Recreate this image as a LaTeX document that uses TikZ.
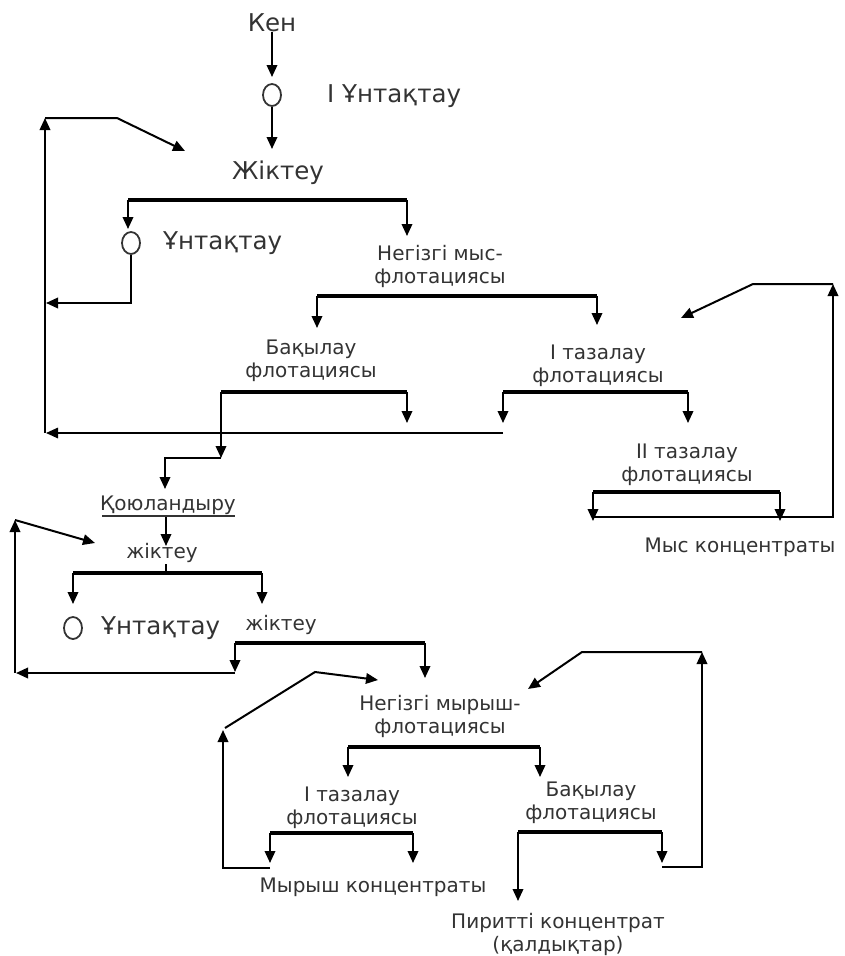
\documentclass[tikz,border=0pt]{standalone}
\usepackage{fontspec}
\setmainfont{DejaVu Sans}
\usetikzlibrary{arrows.meta,shapes.geometric}
\definecolor{txt}{HTML}{333333}
\begin{document}
\begin{tikzpicture}[x=1pt,y=-1pt,
  lbl/.style={font=\fontsize{20}{23}\selectfont, text=txt, align=center, inner sep=0pt},
  big/.style={lbl, font=\fontsize{24.5}{28}\selectfont},
  bar/.style={line width=3.4pt},
  ln/.style={line width=2pt},
  arr/.style={ln, -{Triangle[width=10.5pt,length=12pt]}},
  mill/.style={draw=txt, line width=1.8pt, ellipse, minimum width=18pt, minimum height=22pt, inner sep=0pt}]
\useasboundingbox[fill=white] (0,0) rectangle (844,956);

% ---------- top: ore, grinding, classification ----------
\node[big] (ken) at (272,23) {Кен};
\node[mill] (m1) at (272,95) {};
\node[big, anchor=west] (m1t) at (327,96) {I Ұнтақтау};
\coordinate (t1) at (272,77);
\draw[arr] (ken.south) -- (t1);
\coordinate (t2) at (272,149);
\draw[arr] (m1.south) -- (t2);
\node[big] (jik1) at (278,173) {Жіктеу};

\coordinate (b1l) at (128,200); \coordinate (b1r) at (407,200);
\draw[bar] (b1l) -- (b1r);
\coordinate (b1lt) at (128,229); \coordinate (b1rt) at (407,236);
\draw[arr] (b1l) -- (b1lt);
\draw[arr] (b1r) -- (b1rt);
\node[mill] (m2) at (131,243) {};
\node[big, anchor=west] (m2t) at (163,243) {Ұнтақтау};
\coordinate (m2c) at (131,303); \coordinate (m2e) at (46,303);
\draw[arr] (m2.south) -- (m2c) -- (m2e);

% left recycle loop (copper)
\coordinate (L1b) at (45,433); \coordinate (L1t) at (45,118);
\coordinate (L1k) at (117,118); \coordinate (L1e) at (185,151);
\draw[arr] (L1b) -- (L1t);
\draw[arr] (L1t) -- (L1k) -- (L1e);

% ---------- main copper flotation ----------
\node[lbl] (nmf) at (440,266) {Негізгі мыс-\\флотациясы};
\coordinate (b2l) at (317,296); \coordinate (b2r) at (597,296);
\draw[bar] (b2l) -- (b2r);
\coordinate (b2lt) at (317,328); \coordinate (b2rt) at (597,325);
\draw[arr] (b2l) -- (b2lt);
\draw[arr] (b2r) -- (b2rt);

\node[lbl] (bak1) at (311,361) {Бақылау\\флотациясы};
\node[lbl] (taz1) at (598,366) {I тазалау\\флотациясы};

\coordinate (b3l) at (221,392); \coordinate (b3r) at (407,392);
\draw[bar] (b3l) -- (b3r);
\coordinate (b3rt) at (407,423);
\draw[arr] (b3r) -- (b3rt);
\coordinate (b3lt) at (221,458);
\draw[arr] (b3l) -- (b3lt);
\coordinate (b3k1) at (221,458); \coordinate (b3k2) at (165,458); \coordinate (b3k3) at (165,489);
\draw[arr] (b3k1) -- (b3k2) -- (b3k3);

\coordinate (b4l) at (503,392); \coordinate (b4r) at (688,392);
\draw[bar] (b4l) -- (b4r);
\coordinate (b4lt) at (503,423); \coordinate (b4rt) at (688,423);
\draw[arr] (b4l) -- (b4lt);
\draw[arr] (b4r) -- (b4rt);
\coordinate (fb1s) at (503,433); \coordinate (fb1e) at (46,433);
\draw[arr, line width=1.6pt] (fb1s) -- (fb1e);

\node[lbl] (taz2) at (687,465) {II тазалау\\флотациясы};
\coordinate (b5l) at (593,492); \coordinate (b5r) at (780,492);
\draw[bar] (b5l) -- (b5r);
\coordinate (b5lt) at (593,521); \coordinate (b5rt) at (780,521);
\draw[arr] (b5l) -- (b5lt);
\draw[arr] (b5r) -- (b5rt);
\coordinate (R1a) at (593,517); \coordinate (R1b) at (833,517); \coordinate (R1t) at (833,284);
\draw[arr] (R1a) -- (R1b) -- (R1t);
\coordinate (R1k) at (753,284); \coordinate (R1e) at (681,318);
\draw[arr] (R1t) -- (R1k) -- (R1e);
\node[lbl] (mysc) at (740,547) {Мыс концентраты};

% ---------- thickening, zinc circuit ----------
\node[lbl] (koy) at (168,505) {Қоюландыру};
\coordinate (ku1) at (102,516); \coordinate (ku2) at (235,516);
\draw[line width=2pt, txt] (ku1) -- (ku2);
\coordinate (ka1) at (166,517); \coordinate (ka2) at (166,546);
\draw[arr] (ka1) -- (ka2);
\node[lbl] (jik2) at (162,553) {жіктеу};
\coordinate (jk1) at (166,564); \coordinate (jk2) at (166,573);
\draw[line width=1.2pt] (jk1) -- (jk2);

\coordinate (b6l) at (73,573); \coordinate (b6r) at (262,573);
\draw[bar] (b6l) -- (b6r);
\coordinate (b6lt) at (73,604); \coordinate (b6rt) at (262,604);
\draw[arr] (b6l) -- (b6lt);
\draw[arr] (b6r) -- (b6rt);
\node[mill] (m3) at (73,628) {};
\node[big, anchor=west] (m3t) at (101,628) {Ұнтақтау};
\node[lbl] (jik3) at (281,625) {жіктеу};

\coordinate (b7l) at (235,643); \coordinate (b7r) at (425,643);
\draw[bar] (b7l) -- (b7r);
\coordinate (b7lt) at (235,672); \coordinate (b7rt) at (425,678);
\draw[arr] (b7l) -- (b7lt);
\draw[arr] (b7r) -- (b7rt);
\coordinate (L2a) at (235,673); \coordinate (L2b) at (16,673);
\draw[arr] (L2a) -- (L2b);
\coordinate (L2c) at (15,673); \coordinate (L2t) at (15,520);
\draw[arr] (L2c) -- (L2t);
\coordinate (L2e) at (95,543);
\draw[arr] (L2t) -- (L2e);

\node[lbl] (nzf) at (440,716) {Негізгі мырыш-\\флотациясы};
\coordinate (b8l) at (348,747); \coordinate (b8r) at (540,747);
\draw[bar] (b8l) -- (b8r);
\coordinate (b8lt) at (348,777); \coordinate (b8rt) at (540,777);
\draw[arr] (b8l) -- (b8lt);
\draw[arr] (b8r) -- (b8rt);

\node[lbl] (taz3) at (352,808) {I тазалау\\флотациясы};
\node[lbl] (bak2) at (591,803) {Бақылау\\флотациясы};

\coordinate (b9l) at (270,833); \coordinate (b9r) at (413,833);
\draw[bar] (b9l) -- (b9r);
\coordinate (b9lt) at (270,863); \coordinate (b9rt) at (413,863);
\draw[arr] (b9l) -- (b9lt);
\draw[arr] (b9r) -- (b9rt);
\coordinate (L3a) at (270,868); \coordinate (L3b) at (223,868); \coordinate (L3t) at (223,730);
\draw[arr] (L3a) -- (L3b) -- (L3t);
\coordinate (L3s) at (225,728); \coordinate (L3k) at (315,672); \coordinate (L3e) at (378,680);
\draw[arr] (L3s) -- (L3k) -- (L3e);
\node[lbl] (myrc) at (373,887) {Мырыш концентраты};

\coordinate (b10l) at (518,832); \coordinate (b10r) at (662,832);
\draw[bar] (b10l) -- (b10r);
\coordinate (b10lt) at (518,901); \coordinate (b10rt) at (662,863);
\draw[arr] (b10l) -- (b10lt);
\draw[arr] (b10r) -- (b10rt);
\coordinate (R2a) at (662,867); \coordinate (R2b) at (702,867); \coordinate (R2t) at (702,652);
\draw[arr] (R2a) -- (R2b) -- (R2t);
\coordinate (R2k) at (582,652); \coordinate (R2e) at (528,689);
\draw[arr] (R2t) -- (R2k) -- (R2e);
\node[lbl] (pyr) at (558,934) {Пиритті концентрат\\(қалдықтар)};
\end{tikzpicture}
\end{document}
